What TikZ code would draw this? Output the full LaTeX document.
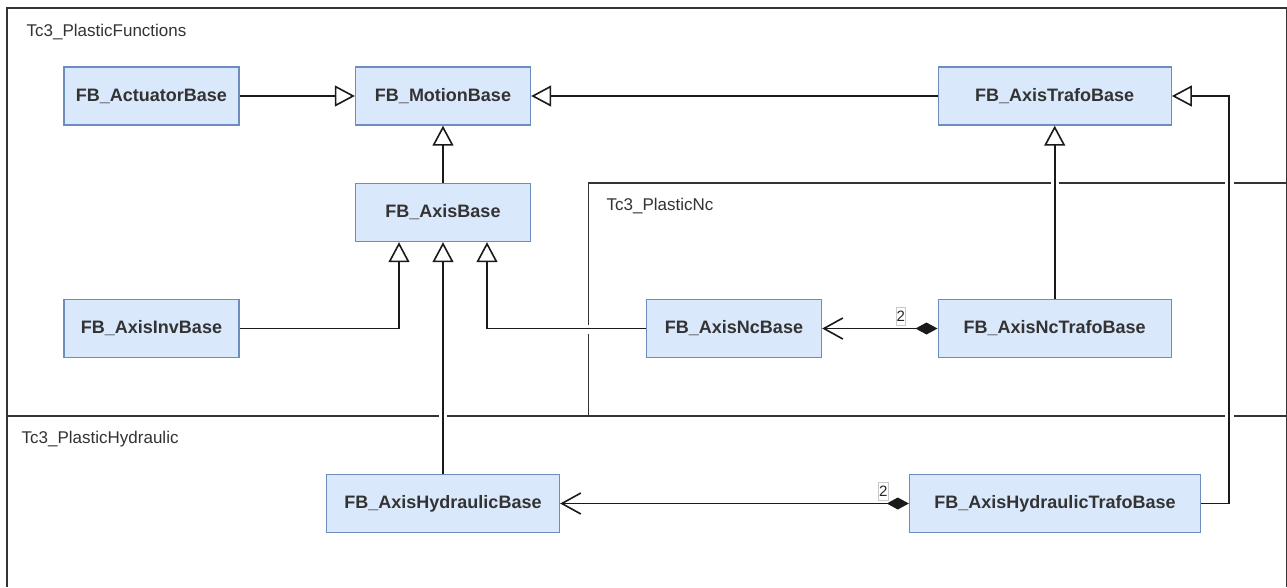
\documentclass[tikz,border=0pt]{standalone}
\usepackage{fontspec}
\setmainfont{Liberation Sans}
\usetikzlibrary{arrows.meta}
\definecolor{boxfill}{HTML}{DAE8FC}
\definecolor{boxline}{HTML}{6C8EBF}
\definecolor{framec}{HTML}{333333}
\definecolor{connc}{HTML}{1A1A1A}
\definecolor{labc}{HTML}{333333}
\definecolor{multc}{HTML}{C8C8C8}
\tikzset{
  cls/.style={draw=boxline, fill=boxfill, line width=1.4pt, minimum height=58pt,
    inner sep=0pt, text=black!80, font=\fontsize{18}{20}\selectfont\bfseries},
  framel/.style={draw=framec, line width=1.5pt},
  pkglabel/.style={anchor=base west, inner sep=0pt, text=labc, font=\fontsize{17}{20}\selectfont},
  inh/.style={draw=connc, line width=1.6pt, -{Triangle[length=20pt,width=21pt,fill=white]}},
  comp/.style={draw=connc, line width=1.6pt,
    {Diamond[length=22pt,width=12pt,fill=connc]}-{Straight Barb[length=19pt,width=21pt]}},
  mult/.style={draw=multc, line width=0.6pt, inner sep=0.4pt, minimum width=9pt,
    minimum height=18pt, text=black!85, font=\fontsize{15}{18}\selectfont}
}
\begin{document}
\begin{tikzpicture}[x=1pt,y=-1pt]
\useasboundingbox (0,0) rectangle (1287,587);
\fill[white] (0,0) rectangle (1287,587);
% package frames
\draw[framel] (1287,8) -- (7,8) -- (7,587);
\draw[framel] (1286.5,8) -- (1286.5,587);
\draw[framel] (7,416) -- (438.5,416) (447,416) -- (1225,416) (1233.5,416) -- (1287,416);
\draw[framel] (588.5,324.5) -- (588.5,183) -- (1050.5,183) (1058.5,183) -- (1225,183) (1233.5,183) -- (1287,183);
\draw[framel] (588.5,333.5) -- (588.5,416);
\node[pkglabel] (lf) at (26.5,36.7) {Tc3\_PlasticFunctions};
\node[pkglabel] (ln) at (606.5,210.7) {Tc3\_PlasticNc};
\node[pkglabel] (lh) at (21.5,443.3) {Tc3\_PlasticHydraulic};
% classes
\node[cls, minimum width=175pt] (act) at (151.5,96) {FB\_ActuatorBase};
\node[cls, minimum width=175pt] (motion) at (443,96) {FB\_MotionBase};
\node[cls, minimum width=233pt] (axtrafo) at (1054.7,96) {FB\_AxisTrafoBase};
\node[cls, minimum width=175pt] (axis) at (443,212.5) {FB\_AxisBase};
\node[cls, minimum width=175pt] (inv) at (151.5,328.5) {FB\_AxisInvBase};
\node[cls, minimum width=175pt] (nc) at (734,328.5) {FB\_AxisNcBase};
\node[cls, minimum width=233pt] (nctrafo) at (1054.7,328.5) {FB\_AxisNcTrafoBase};
\node[cls, minimum width=233pt] (hyd) at (443,503.5) {FB\_AxisHydraulicBase};
\node[cls, minimum width=291pt] (hydtrafo) at (1055,503.5) {FB\_AxisHydraulicTrafoBase};
\coordinate (turn) at (1229,300);
% connectors
\draw[inh] (act) -- (motion);
\draw[inh] (axtrafo) -- (motion);
\draw[inh] (axis) -- (motion);
\draw[inh] (inv.east) -| ([xshift=-44pt]axis.south);
\draw[inh] (hyd) -- (axis);
\draw[inh] (nc.west) -| ([xshift=44pt]axis.south);
\draw[inh] (nctrafo) -- (axtrafo);
\draw[comp] (nctrafo) -- (nc);
\draw[comp] (hydtrafo) -- (hyd);
\draw[inh] (hydtrafo.east) -- (hydtrafo.east -| turn) -- (turn |- axtrafo.east) -- (axtrafo.east);
\node[mult] (m1) at ([xshift=-36.7pt,yshift=12.5pt]nctrafo.west) {2};
\node[mult] (m2) at ([xshift=-25.5pt,yshift=12.5pt]hydtrafo.west) {2};
\end{tikzpicture}
\end{document}
